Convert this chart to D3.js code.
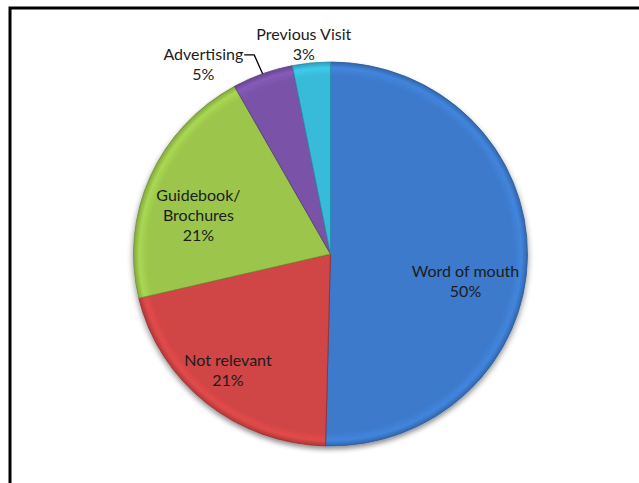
<!DOCTYPE html>
<html>
<head>
<meta charset="utf-8">
<script src="https://cdn.jsdelivr.net/npm/d3@7"></script>
<style>
  html, body { margin: 0; padding: 0; background: #fff; }
  svg { display: block; }
  text { font-family: Lato, "Open Sans", "Liberation Sans", sans-serif; fill: #1c1c1c; }
</style>
</head>
<body>
<svg id="chart" width="639" height="483"></svg>
<script>
// ---- data ----
const categories = ["Word of mouth", "Not relevant", "Guidebook/\nBrochures", "Advertising", "Previous Visit"];
const values = [50.4, 20.9, 20.6, 5.0, 3.1];
const colors = ["#3c7acb", "#d04444", "#9bc64b", "#7a53a9", "#38bad9"];
const strokes = ["#2a5a9a", "#9a2a2a", "#6f9332", "#553a7a", "#2590aa"];

// ---- layout (label placement relative to slice) ----
const labelRadius = [0.70, 0.80, 0.70, 1.18, 1.10];
const labelAngleShift = [11, 1.5, -7, -13, -1.5]; // degrees
const outsideLabel = [false, false, false, true, false];

const W = 639, H = 483;
const cx = 330.5, cy = 254, R = 197, yScale = 192 / 197;

const svg = d3.select("#chart");

// frame (top and left visible)
svg.append("path")
  .attr("d", `M10,483 V8 H639`)
  .attr("fill", "none").attr("stroke", "#000").attr("stroke-width", 3);

const defs = svg.append("defs");
const f = defs.append("filter").attr("id", "shadow").attr("x", "-20%").attr("y", "-20%").attr("width", "140%").attr("height", "140%");
f.append("feGaussianBlur").attr("in", "SourceAlpha").attr("stdDeviation", 3).attr("result", "b");
f.append("feOffset").attr("in", "b").attr("dx", 0).attr("dy", 3).attr("result", "o");
f.append("feComponentTransfer").attr("in", "o").attr("result", "o2")
  .append("feFuncA").attr("type", "linear").attr("slope", 0.45);
const m = f.append("feMerge");
m.append("feMergeNode").attr("in", "o2");
m.append("feMergeNode").attr("in", "SourceGraphic");

// bevel-like radial gradients per slice
colors.forEach((c, i) => {
  const g = defs.append("radialGradient").attr("id", "g" + i)
    .attr("gradientUnits", "userSpaceOnUse").attr("cx", 0).attr("cy", 0).attr("r", R);
  g.append("stop").attr("offset", "0%").attr("stop-color", c);
  g.append("stop").attr("offset", "93%").attr("stop-color", c);
  g.append("stop").attr("offset", "97%").attr("stop-color", d3.color(c).brighter(0.25));
  g.append("stop").attr("offset", "100%").attr("stop-color", d3.color(c).darker(0.5));
});

const pie = d3.pie().sort(null).value(d => d)(values);
const arc = d3.arc().innerRadius(0).outerRadius(R);

const gp = svg.append("g")
  .attr("transform", `translate(${cx},${cy}) scale(1,${yScale})`)
  .attr("filter", "url(#shadow)");

gp.selectAll("path.slice").data(pie).join("path")
  .attr("class", "slice")
  .attr("d", arc)
  .attr("fill", (d, i) => `url(#g${i})`)
  .attr("stroke", (d, i) => strokes[i])
  .attr("stroke-width", 0.8)
  .attr("stroke-linejoin", "round");

const total = d3.sum(values);
const lineH = 20, fontSize = 16;

pie.forEach((d, i) => {
  const mid = (d.startAngle + d.endAngle) / 2 + labelAngleShift[i] * Math.PI / 180;
  const r = R * labelRadius[i];
  const x = cx + Math.sin(mid) * r;
  const y = cy - Math.cos(mid) * r * yScale;
  const lines = categories[i].split("\n").concat([Math.round(values[i] / total * 100) + "%"]);
  const t = svg.append("text")
    .attr("text-anchor", "middle")
    .attr("font-size", fontSize);
  const y0 = y - (lines.length - 1) * lineH / 2 + fontSize * 0.35;
  lines.forEach((ln, k) => {
    t.append("tspan").attr("x", x).attr("y", y0 + k * lineH).text(ln);
  });
  if (outsideLabel[i]) {
    // leader line from end of first line to slice edge midpoint
    const bb = t.node().getBBox();
    const edgeAng = (d.startAngle + d.endAngle) / 2;
    const ex = cx + Math.sin(edgeAng) * R;
    const ey = cy - Math.cos(edgeAng) * R * yScale;
    const sx = bb.x + bb.width + 1;
    const sy = y0 - 5;
    svg.append("path")
      .attr("d", `M${sx},${sy} H${sx + 10} L${ex},${ey}`)
      .attr("fill", "none").attr("stroke", "#000").attr("stroke-width", 1.3);
  }
});
</script>
</body>
</html>
